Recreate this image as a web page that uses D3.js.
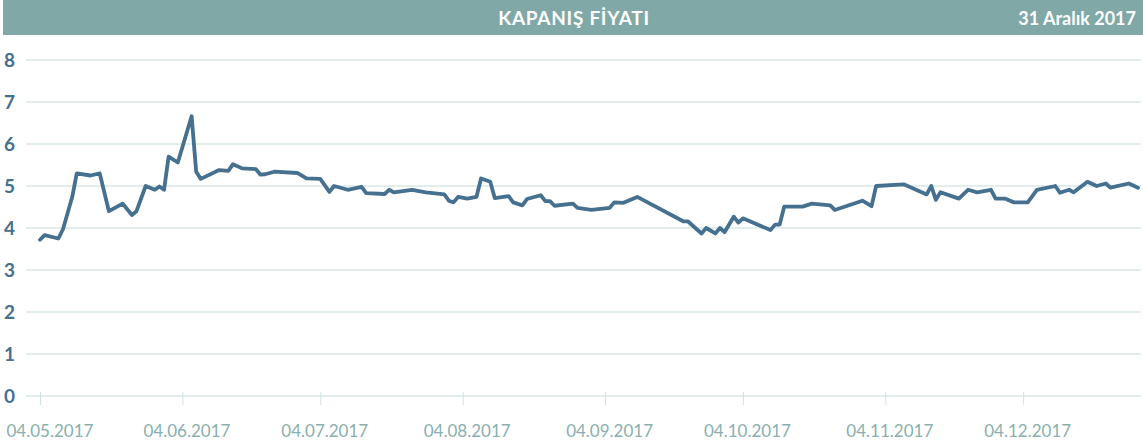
<!DOCTYPE html>
<html>
<head>
<meta charset="utf-8">
<script src="https://cdn.jsdelivr.net/npm/d3@7"></script>
<style>
  body { margin: 0; background: #fff; }
  svg { display: block; }
</style>
</head>
<body>
<script>
// closing price
const dates = [
  "2017-05-04","2017-05-05","2017-05-08","2017-05-09","2017-05-11","2017-05-12","2017-05-15","2017-05-17",
  "2017-05-19","2017-05-22","2017-05-24","2017-05-25","2017-05-27","2017-05-29","2017-05-30","2017-05-31",
  "2017-06-01","2017-06-03","2017-06-06","2017-06-07","2017-06-08","2017-06-12","2017-06-14","2017-06-15",
  "2017-06-17","2017-06-20","2017-06-21","2017-06-22","2017-06-24","2017-06-29","2017-07-01","2017-07-04",
  "2017-07-06","2017-07-07","2017-07-10","2017-07-13","2017-07-14","2017-07-18","2017-07-19","2017-07-20",
  "2017-07-24","2017-07-27","2017-07-31","2017-08-01","2017-08-02","2017-08-03","2017-08-05","2017-08-07",
  "2017-08-08","2017-08-10","2017-08-11","2017-08-14","2017-08-15","2017-08-17","2017-08-18","2017-08-21",
  "2017-08-22","2017-08-23","2017-08-24","2017-08-28","2017-08-29","2017-09-01","2017-09-05","2017-09-06",
  "2017-09-08","2017-09-11","2017-09-21","2017-09-22","2017-09-25","2017-09-26","2017-09-28","2017-09-29",
  "2017-09-30","2017-10-02","2017-10-03","2017-10-04","2017-10-10","2017-10-11","2017-10-12","2017-10-13",
  "2017-10-17","2017-10-19","2017-10-23","2017-10-24","2017-10-30","2017-11-01","2017-11-02","2017-11-08",
  "2017-11-13","2017-11-14","2017-11-15","2017-11-16","2017-11-20","2017-11-22","2017-11-24","2017-11-27",
  "2017-11-28","2017-11-30","2017-12-02","2017-12-05","2017-12-07","2017-12-11","2017-12-12","2017-12-14",
  "2017-12-15","2017-12-18","2017-12-20","2017-12-22","2017-12-23","2017-12-27","2017-12-29"
];
const prices = [
  3.72,3.83,3.75,3.97,4.73,5.30,5.25,5.30,
  4.40,4.58,4.31,4.40,5.00,4.91,4.99,4.91,
  5.70,5.56,6.66,5.34,5.17,5.38,5.36,5.52,
  5.42,5.40,5.27,5.28,5.34,5.31,5.18,5.17,
  4.86,5.00,4.91,4.98,4.83,4.81,4.91,4.85,
  4.91,4.85,4.80,4.65,4.61,4.74,4.70,4.74,
  5.18,5.10,4.71,4.76,4.61,4.54,4.69,4.78,
  4.64,4.64,4.53,4.58,4.48,4.43,4.48,4.61,
  4.60,4.74,4.16,4.16,3.87,4.00,3.87,4.00,
  3.90,4.27,4.13,4.23,3.95,4.08,4.08,4.51,
  4.51,4.58,4.54,4.43,4.65,4.52,5.00,5.04,
  4.80,5.00,4.67,4.85,4.70,4.91,4.85,4.91,
  4.70,4.70,4.61,4.61,4.91,5.00,4.84,4.91,
  4.85,5.10,5.00,5.06,4.96,5.06,4.96
];
const yTicks = [0,1,2,3,4,5,6,7,8];
const xTickDates = ["2017-05-04","2017-06-04","2017-07-04","2017-08-04","2017-09-04","2017-10-04","2017-11-04","2017-12-04"];
const title = "KAPANIŞ FİYATI";
const dateLabel = "31 Aralık 2017";

const width = 1143;
const height = 445;

const parse = d3.timeParse("%Y-%m-%d");
const fmt = d3.timeFormat("%d.%m.%Y");
const data = dates.map((d, i) => ({date: parse(d), value: prices[i]}));

const svg = d3.select("body")
  .append("svg")
  .attr("width", width)
  .attr("height", height);

// header bar
svg.append("rect")
  .attr("x", 3)
  .attr("y", 0)
  .attr("width", width - 3)
  .attr("height", 35)
  .attr("fill", "#7fa8a7");

svg.append("text")
  .attr("x", 574)
  .attr("y", 25)
  .attr("text-anchor", "middle")
  .attr("fill", "#fff")
  .style("font-family", "Lato, sans-serif")
  .style("font-weight", "bold")
  .style("font-size", "19px")
  .style("letter-spacing", "0.7px")
  .text(title);

svg.append("text")
  .attr("x", 1136)
  .attr("y", 25)
  .attr("text-anchor", "end")
  .attr("fill", "#fff")
  .style("font-family", "Lato, sans-serif")
  .style("font-weight", "bold")
  .style("font-size", "18px")
  .text(dateLabel);

const x = d3.scaleTime()
  .domain([parse("2017-05-04"), parse("2017-12-29")])
  .range([40, 1138]);

const y = d3.scaleLinear()
  .domain([0, 8])
  .range([396, 60]);

// grid lines
svg.selectAll(".grid")
  .data(yTicks)
  .enter()
  .append("line")
  .attr("class", "grid")
  .attr("x1", 26)
  .attr("x2", 1141)
  .attr("y1", d => y(d))
  .attr("y2", d => y(d))
  .attr("stroke", "#d8e8e8")
  .attr("stroke-width", 1.5);

// y labels
svg.selectAll(".ylabel")
  .data(yTicks)
  .enter()
  .append("text")
  .attr("class", "ylabel")
  .attr("x", 4)
  .attr("y", d => y(d))
  .attr("dy", "0.36em")
  .attr("fill", "#46708f")
  .style("font-family", "Lato, sans-serif")
  .style("font-weight", "bold")
  .style("font-size", "19px")
  .text(d => d);

// x axis ticks + labels
const xAxis = d3.axisBottom(x)
  .tickValues(xTickDates.map(parse))
  .tickFormat(fmt)
  .tickSize(10)
  .tickPadding(20);

const gx = svg.append("g")
  .attr("transform", "translate(0,395)")
  .call(xAxis);

gx.select(".domain").remove();
gx.selectAll(".tick line")
  .attr("y1", -3)
  .attr("stroke", "#d0e3e3");
gx.selectAll(".tick text")
  .attr("dx", 4)
  .attr("fill", "#8aafae")
  .style("font-family", "Lato, sans-serif")
  .style("font-size", "17px")
  .each(function(d, i){
    // keep the first label inside the picture
    const w = this.getComputedTextLength();
    const cx = x(d) + 4;
    if (cx - w / 2 < 6) {
      d3.select(this).attr("dx", 6 + w / 2 - x(d));
    }
  });

// price line
const line = d3.line()
  .x(d => x(d.date))
  .y(d => y(d.value));

svg.append("path")
  .datum(data)
  .attr("d", line)
  .attr("fill", "none")
  .attr("stroke", "#46708f")
  .attr("stroke-width", 3.8)
  .attr("stroke-linejoin", "round")
  .attr("stroke-linecap", "round");
</script>
</body>
</html>
